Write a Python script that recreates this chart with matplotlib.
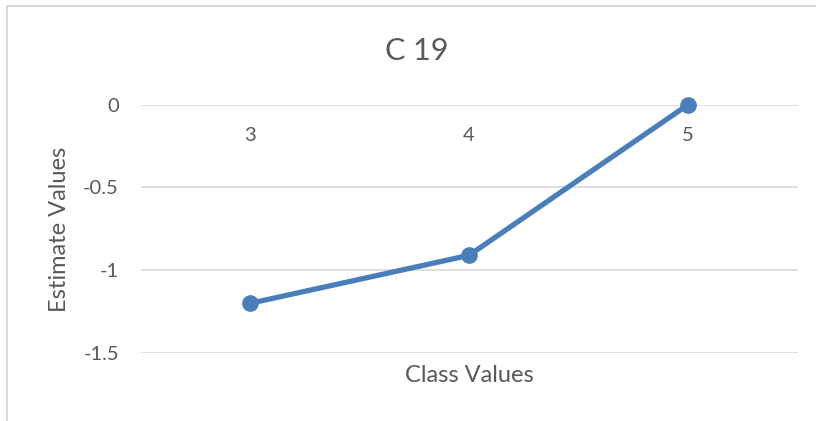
import matplotlib
matplotlib.use("Agg")
import matplotlib.pyplot as plt
from matplotlib.patches import Rectangle
from matplotlib.transforms import offset_copy

categories = ["3", "4", "5"]
values = [-1.2, -0.91, 0.0]
yticks = [0, -0.5, -1, -1.5]
ytick_labels = ["0", "-0.5", "-1", "-1.5"]

plt.rcParams['font.family'] = ['Lato', 'DejaVu Sans']
text_color = "#595959"
line_color = "#4A7EBB"
grid_color = "#D9D9D9"

fig = plt.figure(figsize=(8.16, 4.21), dpi=100)
# outer chart border (partially visible)
fig.patches.append(Rectangle((7/816, -0.1), 1.2, 1 - 6/421 + 0.1, transform=fig.transFigure,
                             fill=False, edgecolor="#D9D9D9", linewidth=1.5))

ax = fig.add_axes([140.5/816, 1 - 353/421, 657/816, (353 - 104.7)/421])
x = list(range(len(categories)))
ax.plot(x, values, color=line_color, linewidth=3.8, marker="o", markersize=11,
        solid_capstyle="round", zorder=3, clip_on=False)

ax.set_xlim(-0.5, len(categories) - 0.5)
ax.set_ylim(-1.5, 0)
ax.set_yticks(yticks)
ax.set_yticklabels(ytick_labels)
ax.tick_params(axis="y", length=0, pad=15.5, labelsize=14.5, labelcolor=text_color)
ax.set_xticks([])
ax.grid(axis="y", color=grid_color, linewidth=1.2)
ax.set_axisbelow(True)
for s in ax.spines.values():
    s.set_visible(False)

for xi, c in zip(x, categories):
    ax.text(xi, 0, c, ha="center", va="center", fontsize=14.5, color=text_color,
            transform=offset_copy(ax.transData, fig=fig, x=0, y=-31, units="dots"))

fig.text(417/816, 1 - 50.5/421, "C 19", ha="center", va="center", fontsize=22, color=text_color)
fig.text(60/816, 1 - 229/421, "Estimate Values", ha="center", va="center", rotation=90,
         fontsize=17, color=text_color)
fig.text(469/816, 1 - 376/421, "Class Values", ha="center", va="center", fontsize=17, color=text_color)

fig.savefig("out.png", dpi=100)
